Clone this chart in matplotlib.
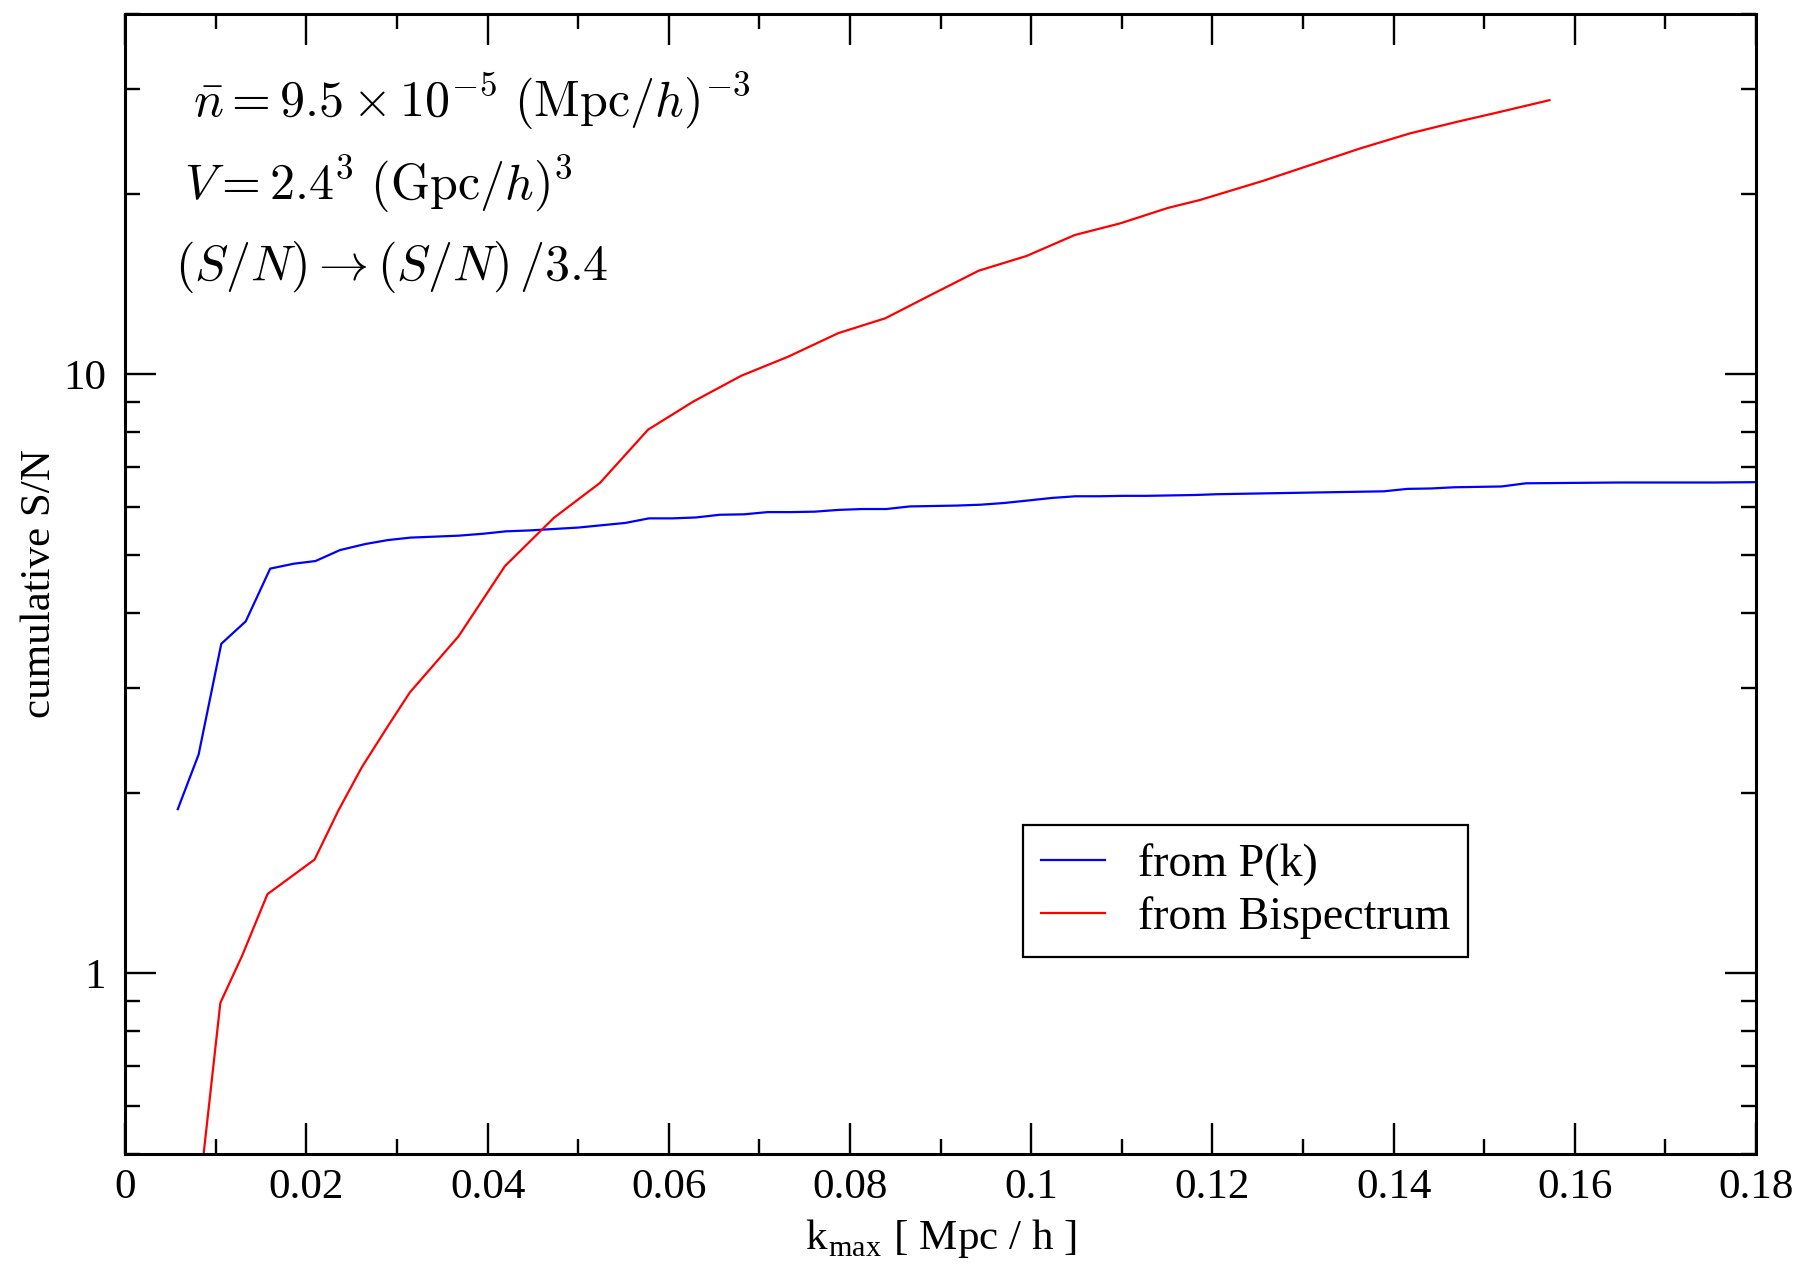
import numpy as np
import matplotlib
matplotlib.use('Agg')
import matplotlib.pyplot as plt
from matplotlib.ticker import FixedLocator, MultipleLocator, LogLocator, NullFormatter

plt.rcParams['font.family'] = ['Liberation Serif', 'DejaVu Serif']
plt.rcParams['mathtext.fontset'] = 'cm'

# cumulative S/N from the power spectrum
k_pk = [0.0058, 0.0081, 0.0106, 0.0133, 0.0160, 0.0186, 0.0210, 0.0237, 0.0265, 0.0290,
        0.0315, 0.0342, 0.0368, 0.0395, 0.0420, 0.0447, 0.0473, 0.0500, 0.0526, 0.0552,
        0.0578, 0.0604, 0.0630, 0.0656, 0.0683, 0.0709, 0.0735, 0.0761, 0.0787, 0.0813,
        0.0840, 0.0866, 0.0892, 0.0918, 0.0944, 0.0970, 0.0997, 0.1023, 0.1049, 0.1075,
        0.1101, 0.1127, 0.1153, 0.1180, 0.1206, 0.1232, 0.1258, 0.1284, 0.1310, 0.1336,
        0.1363, 0.1389, 0.1415, 0.1441, 0.1467, 0.1493, 0.1519, 0.1546, 0.1572, 0.1598,
        0.1624, 0.1650, 0.1676, 0.1702, 0.1729, 0.1755, 0.1781, 0.1807]
sn_pk = [1.88, 2.32, 3.55, 3.87, 4.74, 4.83, 4.88, 5.09, 5.21, 5.29,
         5.34, 5.36, 5.38, 5.42, 5.47, 5.49, 5.52, 5.55, 5.60, 5.65,
         5.75, 5.75, 5.77, 5.83, 5.84, 5.89, 5.89, 5.90, 5.94, 5.96,
         5.96, 6.02, 6.03, 6.04, 6.06, 6.10, 6.16, 6.22, 6.26, 6.26,
         6.27, 6.27, 6.28, 6.29, 6.31, 6.32, 6.33, 6.34, 6.35, 6.36,
         6.37, 6.38, 6.44, 6.45, 6.48, 6.49, 6.50, 6.58, 6.585, 6.59,
         6.595, 6.60, 6.60, 6.60, 6.60, 6.60, 6.605, 6.61]

# cumulative S/N from the bispectrum
k_bs = [0.0081, 0.0105, 0.0129, 0.0157, 0.0209, 0.0235, 0.0261, 0.0290, 0.0314, 0.0368,
        0.0419, 0.0473, 0.0524, 0.0577, 0.0627, 0.0680, 0.0732, 0.0787, 0.0839, 0.0889,
        0.0942, 0.0995, 0.1048, 0.1098, 0.1151, 0.1186, 0.1256, 0.1363, 0.1418, 0.1470,
        0.1510, 0.1572]
sn_bs = [0.42, 0.893, 1.07, 1.356, 1.549, 1.867, 2.207, 2.588, 2.943, 3.656,
         4.784, 5.76, 6.59, 8.085, 9.01, 9.95, 10.71, 11.72, 12.41, 13.57,
         14.90, 15.77, 17.09, 17.87, 18.97, 19.55, 21.05, 23.84, 25.26, 26.41,
         27.27, 28.70]

xticks = [0, 0.02, 0.04, 0.06, 0.08, 0.1, 0.12, 0.14, 0.16, 0.18]
xtick_labels = ['0', '0.02', '0.04', '0.06', '0.08', '0.1', '0.12', '0.14', '0.16', '0.18']
yticks = [1, 10]
ytick_labels = ['1', '10']

fig = plt.figure(figsize=(18.02, 12.69), dpi=100)
ax = fig.add_axes([0.0695, 0.0909, 0.905, 0.8982])

ax.plot(k_pk, sn_pk, color='#0000ff', lw=1.6, label='from P(k)')
ax.plot(k_bs, sn_bs, color='#ff0000', lw=1.6, label='from Bispectrum')

ax.set_yscale('log')
ax.set_xlim(0, 0.18)
ax.set_ylim(0.5, 40)

ax.xaxis.set_major_locator(FixedLocator(xticks))
ax.set_xticklabels(xtick_labels)
ax.xaxis.set_minor_locator(MultipleLocator(0.01))
ax.yaxis.set_major_locator(FixedLocator(yticks))
ax.set_yticklabels(ytick_labels)
ax.yaxis.set_minor_locator(LogLocator(base=10, subs=np.arange(2, 10)))
ax.yaxis.set_minor_formatter(NullFormatter())

for s in ax.spines.values():
    s.set_linewidth(2.2)
ax.tick_params(which='both', direction='in', top=True, right=True, width=1.7)
ax.tick_params(which='major', length=22, labelsize=31, pad=14)
ax.tick_params(which='minor', length=11)
ax.tick_params(axis='x', which='major', pad=11)

ax.set_xlabel(r'k$_{\mathregular{max}}$ [ Mpc / h ]', fontsize=31, labelpad=7)
ax.set_ylabel('cumulative S/N', fontsize=31, labelpad=3)

ax.text(0.0415, 0.9235, r'$\bar{n} = 9.5 \times 10^{-5}\ (\mathrm{Mpc}/h)^{-3}$',
        transform=ax.transAxes, fontsize=36, va='center', ha='left')
ax.text(0.036, 0.8507, r'$V = 2.4^{3}\ (\mathrm{Gpc}/h)^{3}$',
        transform=ax.transAxes, fontsize=36, va='center', ha='left')
ax.text(0.0305, 0.7779, r'$(S/N) \rightarrow (S/N)\,/3.4$',
        transform=ax.transAxes, fontsize=36, va='center', ha='left')

leg = ax.legend(loc='lower left', bbox_to_anchor=(0.5505, 0.1725), borderaxespad=0,
                fontsize=33, fancybox=False, framealpha=1, edgecolor='black',
                handlelength=1.4, handletextpad=0.7, borderpad=0.4, labelspacing=0.22)
leg.get_frame().set_linewidth(1.6)

fig.savefig('out.png', dpi=100)
